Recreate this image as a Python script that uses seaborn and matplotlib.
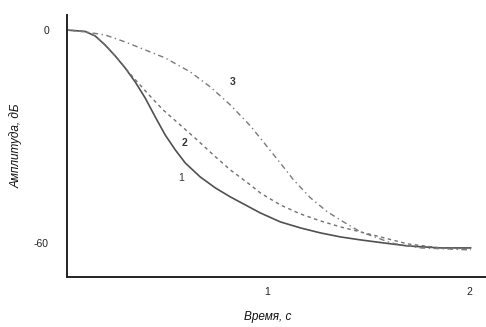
import matplotlib
matplotlib.use("Agg")
import matplotlib.pyplot as plt
import seaborn as sns
import pandas as pd

# Data (time in s, amplitude in dB)
t1 = [0.0, 0.099, 0.149, 0.198, 0.248, 0.297, 0.347, 0.396, 0.446, 0.495, 0.545, 0.594, 0.668, 0.743, 0.817, 0.965, 1.064, 1.163, 1.262, 1.361, 1.460, 1.574, 1.693, 1.856, 2.005]
a1 = [0.0, -0.42, -1.69, -4.23, -7.32, -10.70, -14.65, -19.15, -24.51, -29.58, -33.80, -37.46, -41.41, -44.51, -47.04, -51.55, -54.08, -55.77, -57.18, -58.31, -59.15, -60.0, -60.85, -61.41, -61.41]

t2 = [0.0, 0.099, 0.149, 0.198, 0.248, 0.282, 0.322, 0.406, 0.485, 0.569, 0.653, 0.733, 0.817, 0.916, 0.965, 1.064, 1.163, 1.262, 1.361, 1.460, 1.559, 1.693, 1.856, 2.005]
a2 = [0.0, -0.42, -1.69, -4.23, -7.32, -9.58, -12.39, -17.75, -22.54, -26.76, -30.99, -35.21, -39.44, -43.66, -45.92, -49.30, -51.83, -53.80, -55.49, -56.90, -58.31, -60.28, -61.41, -61.69]

t3 = [0.0, 0.099, 0.198, 0.297, 0.396, 0.495, 0.619, 0.718, 0.817, 0.916, 1.000, 1.079, 1.129, 1.213, 1.297, 1.376, 1.460, 1.545, 1.609, 1.757, 2.005]
a3 = [0.0, -0.56, -1.41, -3.38, -5.63, -7.89, -11.83, -16.06, -21.13, -27.04, -32.96, -38.59, -42.25, -47.32, -51.27, -54.08, -56.90, -58.59, -60.00, -61.41, -61.97]

curve_names = ["1", "2", "3"]
y_ticks = [0, -60]
y_tick_labels = ["0", "-60"]
x_ticks = [1, 2]
x_tick_labels = ["1", "2"]

df = pd.concat([
    pd.DataFrame({"t": t1, "a": a1, "curve": "1"}),
    pd.DataFrame({"t": t2, "a": a2, "curve": "2"}),
    pd.DataFrame({"t": t3, "a": a3, "curve": "3"}),
], ignore_index=True)

sns.set_style("white")
plt.rcParams["font.family"] = ["Liberation Sans", "DejaVu Sans"]

fig = plt.figure(figsize=(4.86, 3.27), dpi=100)
ax = fig.add_axes([67 / 486, 50 / 327, 419 / 486, 262 / 327])

styles = {"1": None, "2": (0, (2.5, 2.5)), "3": (0, (4, 2.5, 1, 2.5))}
colors = {"1": "#505050", "2": "#707070", "3": "#7a7a7a"}
widths = {"1": 1.2, "2": 1.0, "3": 1.0}
for name in curve_names:
    sub = df[df["curve"] == name]
    sns.lineplot(data=sub, x="t", y="a", ax=ax, color=colors[name],
                 linewidth=widths[name], sort=False, estimator=None)
    ln = ax.lines[-1]
    if styles[name] is not None:
        ln.set_linestyle(styles[name])

# curve number labels
ax.text(0.574, -41.7, "1", fontsize=7.5, color="#333333", ha="center", va="center")
ax.text(0.589, -31.8, "2", fontsize=7.5, color="#333333", ha="center", va="center", fontweight="bold")
ax.text(0.827, -14.6, "3", fontsize=7.5, color="#333333", ha="center", va="center", fontweight="bold")

ax.set_xlim(0.01, 2.08)
ax.set_ylim(-69.6, 4.2)
ax.set_xticks(x_ticks)
ax.set_xticklabels(x_tick_labels)
ax.set_yticks(y_ticks)
ax.set_yticklabels(y_tick_labels)
ax.tick_params(axis="y", direction="inout", length=6, width=1, labelsize=7.5,
               color="#222222", labelcolor="#222222", pad=10)
ax.tick_params(axis="x", direction="inout", length=6, width=1, labelsize=7.5,
               color="#222222", labelcolor="#222222", pad=4)

for s in ["top", "right"]:
    ax.spines[s].set_visible(False)
for s in ["left", "bottom"]:
    ax.spines[s].set_color("#222222")
    ax.spines[s].set_linewidth(1.4)

ax.set_xlabel("Время, с", fontsize=8.5, style="italic", color="#111111")
ax.set_ylabel("Амплитуда, дБ", fontsize=8.5, style="italic", color="#111111")
ax.xaxis.set_label_coords(0.48, -0.13)
ax.yaxis.set_label_coords(-0.105, 0.5)

fig.savefig("out.png", dpi=100)
